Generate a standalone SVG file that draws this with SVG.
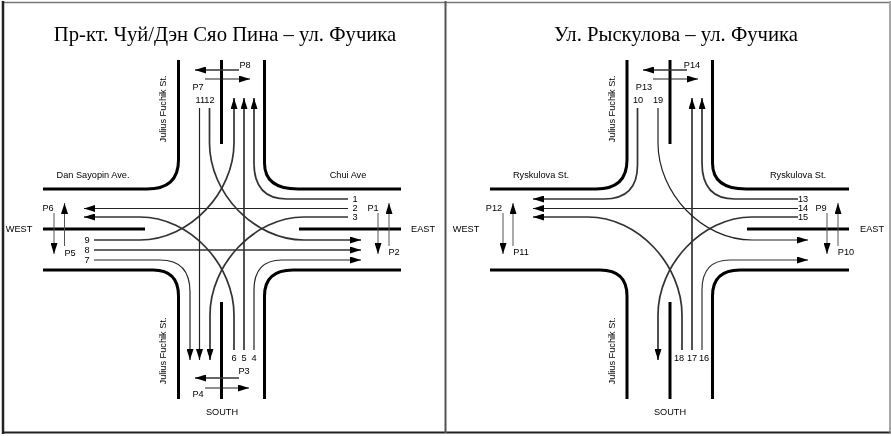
<svg xmlns="http://www.w3.org/2000/svg" width="891" height="436" viewBox="0 0 891 436">
<style>
text{font-family:"Liberation Sans",Arial,sans-serif;font-size:9.2px;fill:#000;text-anchor:middle;dominant-baseline:central}
text.t{font-family:"Liberation Serif","Times New Roman",serif;font-size:20.7px;fill:#000;dominant-baseline:auto}
.c{fill:none;stroke:#000;stroke-width:3}
.l{fill:none;stroke:#222;stroke-width:1.2}
.m{fill:none;stroke:#333;stroke-width:1.7}
.p{fill:none;stroke:#555;stroke-width:1}
.a{marker-end:url(#ah)}
.s{marker-end:url(#as)}
</style>
<defs>
<marker id="ah" markerUnits="userSpaceOnUse" viewBox="0 0 11 7" refX="11" refY="3.5" markerWidth="11" markerHeight="7" orient="auto"><path d="M0 0L11 3.500L0 7Z" fill="#000"/></marker>
<marker id="as" markerUnits="userSpaceOnUse" viewBox="0 0 11 7" refX="11" refY="3.5" markerWidth="11" markerHeight="7" orient="auto"><path d="M0 0L11 3.500L0 7Z" fill="#000"/></marker>
<filter id="soft" x="0" y="0" width="100%" height="100%" filterUnits="objectBoundingBox"><feGaussianBlur stdDeviation="0.45"/></filter>
</defs>
<rect width="891" height="436" fill="#fff"/>
<g filter="url(#soft)">
<rect width="891" height="436" fill="#fff"/>
<g id="frame" fill="none">
<path d="M3 2.500H889" stroke="#777" stroke-width="1.500"/>
<path d="M3 1V434" stroke="#222" stroke-width="2.500"/>
<path d="M2 432.500H891" stroke="#222" stroke-width="2"/>
<path d="M445.500 1V433" stroke="#555" stroke-width="2"/>
<path d="M890 1V433" stroke="#888" stroke-width="1.500"/>
</g>

<g id="left-roads">
<path class="c" d="M178.500 60V160Q178.500 189 147 189H43"/>
<path class="c" d="M264.500 60V163Q264.500 189 298 189H401"/>
<path class="c" d="M221.500 60V144"/>
<path class="c" d="M43 229H145"/>
<path class="c" d="M299 229H401"/>
<path class="c" d="M43 270H153Q178.500 270 178.500 296V399"/>
<path class="c" d="M401 270H293Q264.500 270 264.500 296V399"/>
<path class="c" d="M221.500 302V399"/>
</g>
<g id="left-connectors">
<path class="m a" d="M348 199H287Q254 199 254 163V98"/>
<path class="l a" d="M348 208.500H84"/>
<path class="m a" d="M348 217H304C254 217 210 265 210 315V360"/>
<path class="m a" d="M234 350V315C234 265 190 217 140 217H84"/>
<path class="m a" d="M244 350V98"/>
<path class="l a" d="M254 350V290Q254 260 282 260H361"/>
<path class="l a" d="M94 260H160Q190 260 190 292V360"/>
<path class="m a" d="M94 250H361"/>
<path class="m a" d="M94 240H140C190 240 234 192 234 143V98"/>
<path class="l a" d="M199.500 108V360"/>
<path class="m a" d="M209.500 108V143C209.500 193 254 240 304 240H361"/>
<path class="m s" d="M239 70H195"/>
<path class="l s" d="M205 79H250"/>
<path class="m s" d="M239 378H195"/>
<path class="l s" d="M205 388H249"/>
<path class="p s" d="M64.500 246V203"/>
<path class="p s" d="M54 213V254"/>
<path class="p s" d="M389 246V203"/>
<path class="p s" d="M378 213V254"/>
</g>
<g id="left-labels">
<text class="t" x="225" y="41">Пр-кт. Чуй/Дэн Сяо Пина – ул. Фучика</text>
<text x="245" y="65">P8</text><text x="198" y="87">P7</text><text x="205" y="100">1112</text>
<text x="93" y="175">Dan Sayopin Ave.</text><text x="348" y="175">Chui Ave</text>
<text transform="translate(163 109) rotate(-90)">Julius Fuchik St.</text>
<text transform="translate(163 351) rotate(-90)">Julius Fuchik St.</text>
<text x="355" y="199">1</text><text x="355" y="208">2</text><text x="355" y="217">3</text>
<text x="87" y="240">9</text><text x="87" y="250">8</text><text x="87" y="260">7</text>
<text x="234" y="358">6</text><text x="244" y="358">5</text><text x="254" y="358">4</text>
<text x="48" y="208">P6</text><text x="70" y="253">P5</text><text x="373" y="208">P1</text><text x="394" y="252">P2</text>
<text x="244" y="371">P3</text><text x="198" y="394">P4</text>
<text x="19" y="229">WEST</text><text x="423" y="229">EAST</text><text x="222" y="412">SOUTH</text>
</g>

<g id="right-roads">
<path class="c" d="M627 60V160Q627 189 596 189H490"/>
<path class="c" d="M712.500 60V163Q712.500 189 746 189H849"/>
<path class="c" d="M670 60V144"/>
<path class="c" d="M747 229H849"/>
<path class="c" d="M490 270H600Q627 270 627 296V399"/>
<path class="c" d="M849 270H740Q712.500 270 712.500 296V399"/>
<path class="c" d="M670 302V399"/>
</g>
<g id="right-connectors">
<path class="m a" d="M798 199H735Q702 199 702 163V98"/>
<path class="l a" d="M798 208.500H533"/>
<path class="m a" d="M798 217H752C702 217 658 265 658 315V360"/>
<path class="m a" d="M682 350V315C682 265 638 217 588 217H533"/>
<path class="m a" d="M692 350V98"/>
<path class="m a" d="M702 350V290Q702 260 730 260H808" style="stroke-width:1.200"/>
<path class="m a" d="M637.500 108V165Q637.500 199 604 199H533"/>
<path class="l a" d="M658 108V143C658 193 702 240 752 240H808"/>
<path class="m s" d="M687 70H643"/>
<path class="l s" d="M653 79H698"/>
<path class="p s" d="M513 246V203"/>
<path class="p s" d="M503 213V254"/>
<path class="p s" d="M838 246V203"/>
<path class="p s" d="M827 213V254"/>
</g>
<g id="right-labels">
<text class="t" x="676" y="41">Ул. Рыскулова – ул. Фучика</text>
<text x="692" y="65">P14</text><text x="644" y="87">P13</text><text x="638" y="100">10</text><text x="658" y="100">19</text>
<text x="541" y="175">Ryskulova St.</text><text x="798" y="175">Ryskulova St.</text>
<text transform="translate(612 109) rotate(-90)">Julius Fuchik St.</text>
<text transform="translate(612 351) rotate(-90)">Julius Fuchik St.</text>
<text x="803" y="199">13</text><text x="803" y="208">14</text><text x="803" y="217">15</text>
<text x="679" y="358">18</text><text x="692" y="358">17</text><text x="704" y="358">16</text>
<text x="494" y="208">P12</text><text x="521" y="252">P11</text><text x="821" y="208">P9</text><text x="846" y="252">P10</text>
<text x="466" y="229">WEST</text><text x="872" y="229">EAST</text><text x="670" y="412">SOUTH</text>
</g>
</g>
</svg>
